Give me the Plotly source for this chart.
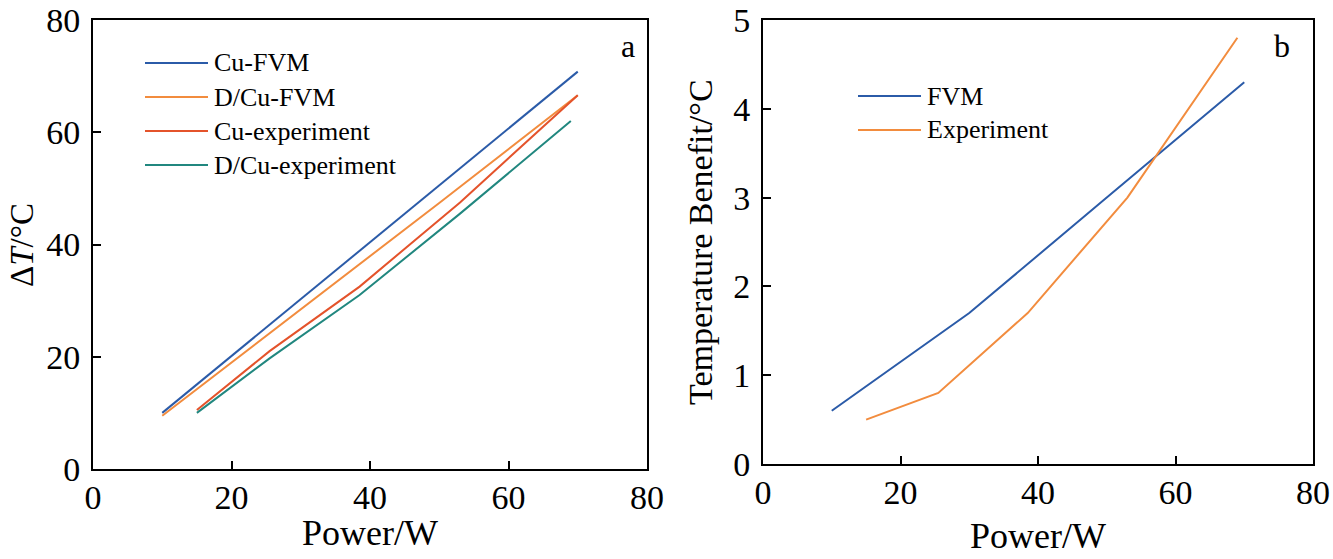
import plotly.graph_objects as go
from plotly.subplots import make_subplots

# panel a: temperature rise vs power
power_fvm = [10, 30, 50, 70]
cu_fvm = [10, 30.3, 50.6, 70.8]
dcu_fvm = [9.5, 28.4, 47.4, 66.6]

power_cu_exp = [15, 25.5, 38.5, 53, 70]
cu_exp = [10.5, 21, 32.5, 47.5, 66.6]
power_dcu_exp = [15, 25.5, 38.5, 53, 69]
dcu_exp = [10, 19.7, 31, 45.5, 62]

# panel b: temperature benefit
power_b_fvm = [10, 30, 50, 70]
benefit_fvm = [0.6, 1.7, 3.0, 4.3]
power_b_exp = [15, 25.5, 38.5, 53, 69]
benefit_exp = [0.5, 0.8, 1.7, 3.0, 4.8]

ticks_a_x = [0, 20, 40, 60, 80]
ticks_a_y = [0, 20, 40, 60, 80]
ticks_b_y = [0, 1, 2, 3, 4, 5]

BLUE = "#2b5ba8"
ORANGE = "#f28c3e"
RED = "#e4532b"
TEAL = "#21877f"
FONT = "Liberation Serif"
W, H = 1333, 559


def px(v):
    return v / W


def py(v):
    return 1 - v / H


fig = make_subplots(rows=1, cols=2)

series_a = [
    ("Cu-FVM", power_fvm, cu_fvm, BLUE),
    ("D/Cu-FVM", power_fvm, dcu_fvm, ORANGE),
    ("Cu-experiment", power_cu_exp, cu_exp, RED),
    ("D/Cu-experiment", power_dcu_exp, dcu_exp, TEAL),
]
series_b = [
    ("FVM", power_b_fvm, benefit_fvm, BLUE),
    ("Experiment", power_b_exp, benefit_exp, ORANGE),
]

for name, x, y, c in series_a:
    fig.add_trace(go.Scatter(x=x, y=y, name=name, mode="lines",
                             line=dict(color=c, width=2), showlegend=False), row=1, col=1)
for name, x, y, c in series_b:
    fig.add_trace(go.Scatter(x=x, y=y, name=name, mode="lines",
                             line=dict(color=c, width=2), showlegend=False), row=1, col=2)

axis_common = dict(
    showgrid=False, zeroline=False, showline=True, mirror=True, automargin=False,
    linecolor="black", linewidth=2, ticks="inside", ticklen=8, tickwidth=2,
    tickcolor="black", tickfont=dict(family=FONT, size=34, color="black"),
    ticklabeloverflow="allow",
)

fig.update_xaxes(**axis_common, range=[0, 80], tickvals=ticks_a_x, ticklabelstandoff=-3)
fig.update_xaxes(domain=[px(93), px(647)], row=1, col=1)
fig.update_xaxes(domain=[px(763), px(1313)], row=1, col=2)

fig.update_yaxes(**axis_common, ticklabelstandoff=4)
fig.update_yaxes(domain=[py(469), py(20)], range=[0, 80], tickvals=ticks_a_y, row=1, col=1)
fig.update_yaxes(domain=[py(464), py(20)], range=[0, 5], tickvals=ticks_b_y, row=1, col=2)

# axis titles
titles = [
    ("Power/W", 370, 533, 0, 36),
    ("Power/W", 1038, 536, 0, 36),
    ("Δ<i>T</i>/°C", 22, 245, -90, 33),
    ("Temperature Benefit/°C", 701, 242, -90, 34),
]
for text, tx, ty, ang, size in titles:
    fig.add_annotation(xref="paper", yref="paper", x=px(tx), y=py(ty), text=text,
                       textangle=ang, showarrow=False, xanchor="center", yanchor="middle",
                       font=dict(family=FONT, size=size, color="black"))


# legends drawn as line samples + text, stacked from a start point
def draw_legend(items, x0, y0, step):
    for i, (name, _, _, c) in enumerate(items):
        y = y0 + i * step
        fig.add_shape(type="line", xref="paper", yref="paper",
                      x0=px(x0), x1=px(x0 + 63), y0=py(y), y1=py(y),
                      line=dict(color=c, width=2))
        fig.add_annotation(xref="paper", yref="paper", x=px(x0 + 67), y=py(y),
                           text=name, showarrow=False, xanchor="left", yanchor="middle",
                           font=dict(family=FONT, size=26, color="black"))


draw_legend(series_a, 145, 63, 34)
draw_legend(series_b, 858, 96, 34)

for label, lx in [("a", 628), ("b", 1292)]:
    fig.add_annotation(xref="paper", yref="paper", x=px(lx), y=py(26), text=label,
                       showarrow=False, font=dict(family=FONT, size=32, color="black"))

fig.update_layout(
    width=W, height=H, margin=dict(l=0, r=0, t=0, b=0),
    plot_bgcolor="white", paper_bgcolor="white",
)

# drop the default 8px body margin so the figure fills the window
fig.write_html("out.html", config={"displayModeBar": False},
               post_script="document.body.style.margin = '0';")
